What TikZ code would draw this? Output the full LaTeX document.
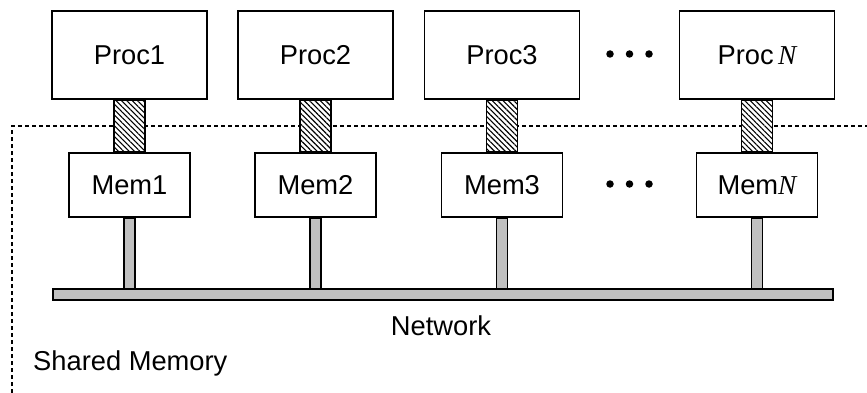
\documentclass[tikz,border=0pt]{standalone}
\usepackage{fontspec}
\setmainfont{Liberation Sans}
\newfontfamily\serifit{Liberation Serif}[ItalicFont={* Italic}]
\usetikzlibrary{patterns.meta,calc}
\definecolor{silver}{HTML}{C0C0C0}
\tikzset{
  x=1pt,y=-1pt,
  every node/.style={font=\fontsize{27.3}{31}\selectfont},
  procbox/.style={draw,line width=1.8pt,minimum width=155pt,minimum height=88pt,inner sep=0pt},
  membox/.style={draw,line width=1.8pt,minimum width=121pt,minimum height=64pt,inner sep=0pt},
  hatchlink/.style={draw,line width=1.8pt,preaction={fill=white},pattern={Lines[angle=-45,distance=3.8pt,line width=1.1pt]}},
  stemlink/.style={draw,line width=1.5pt,fill=silver},
  netbar/.style={draw,line width=1.5pt,fill=silver,minimum width=780pt,minimum height=11pt,inner sep=0pt},
  smline/.style={line width=1.6pt,dash pattern=on 4pt off 3pt},
  dotmark/.style={circle,fill=black,inner sep=0pt,minimum size=7.5pt}
}
\newcommand{\itN}{{\serifit\itshape N}}
\begin{document}
\begin{tikzpicture}
\useasboundingbox (0,0) rectangle (867,393);
% shared memory boundary
\coordinate (smtop) at (12,126);
\coordinate (smright) at (867,126);
\coordinate (smbot) at (12,393);
\draw[smline] (smbot) -- (smtop) -- (smright);
% processors
\node[procbox] (p1) at (129.5,55) {Proc1};
\node[procbox] (p2) at (315.5,55) {Proc2};
\node[procbox] (p3) at (502,55) {Proc3};
\node[procbox] (pn) at (757,55) {Proc\,\itN};
% memories
\node[membox] (m1) at (129.5,185) {Mem1};
\node[membox] (m2) at (315.5,185) {Mem2};
\node[membox] (m3) at (502,185) {Mem3};
\node[membox] (mn) at (757,185) {Mem\itN};
% network bar
\node[netbar] (net) at (443,294.5) {};
% hatched links
\foreach \p/\m in {p1/m1,p2/m2,p3/m3,pn/mn}{
  \path[hatchlink] ($(\p.south)+(-15.5,0)$) rectangle ($(\m.north)+(15.5,0)$);
}
% stems
\foreach \m in {m1,m2,m3,mn}{
  \path[stemlink] ($(\m.south)+(-5.5,0)$) rectangle ($(\m.south |- net.north)+(5.5,0)$);
}
% dots
\node[dotmark] (d1) at (610,54) {};
\node[dotmark] (d2) at (629.5,54) {};
\node[dotmark] (d3) at (649,54) {};
\node[dotmark] (e1) at (610,184) {};
\node[dotmark] (e2) at (629.5,184) {};
\node[dotmark] (e3) at (649,184) {};
% labels
\node[anchor=base] (netlabel) at (441,335) {Network};
\node[anchor=base west,inner sep=0pt] (smlabel) at (33,370) {Shared Memory};
\end{tikzpicture}
\end{document}
